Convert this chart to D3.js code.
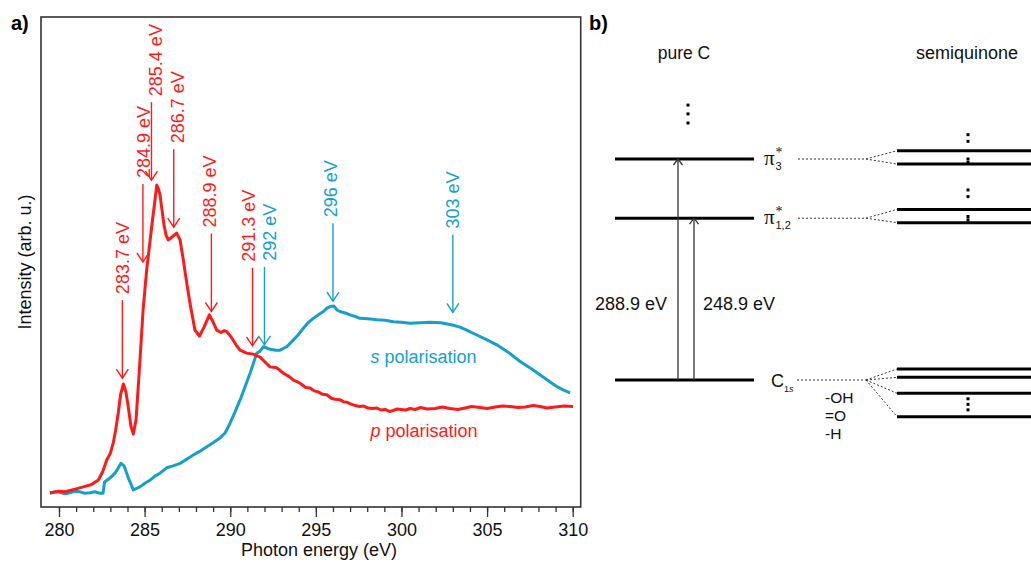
<!DOCTYPE html>
<html>
<head>
<meta charset="utf-8">
<script src="https://cdn.jsdelivr.net/npm/d3@7"></script>
<style>
  html, body { margin: 0; padding: 0; background: #fff; }
  svg { display: block; font-family: "Liberation Sans", Arial, sans-serif; }
</style>
</head>
<body>
<svg id="fig" width="1031" height="563"></svg>
<script>
// ---- NEXAFS spectra (photon energy in eV, intensity in arb. u.) ----
const pEnergy = [279.47, 280.0, 280.35, 280.9, 281.42, 281.9, 282.3, 282.55, 282.79, 283.0, 283.17, 283.3, 283.46, 283.6, 283.76, 283.9, 284.03, 284.2, 284.34, 284.5, 284.73, 284.91, 285.12, 285.41, 285.6, 285.71, 285.8, 285.9, 286.0, 286.13, 286.25, 286.38, 286.6, 286.87, 287.07, 287.26, 287.46, 287.65, 287.94, 288.2, 288.47, 288.78, 288.99, 289.21, 289.46, 289.65, 289.8, 290.09, 290.34, 290.57, 290.96, 291.35, 291.74, 292.03, 292.32, 292.72, 293.0, 293.2, 293.45, 293.69, 293.9, 294.14, 294.4, 294.66, 294.9, 295.13, 295.4, 295.64, 295.9, 296.12, 296.4, 296.61, 296.8, 297.06, 297.3, 297.58, 297.8, 298.05, 298.3, 298.56, 298.8, 299.04, 299.3, 299.53, 299.75, 299.98, 300.25, 300.5, 300.8, 301.09, 301.5, 301.96, 302.4, 302.84, 303.3, 303.71, 304.1, 304.59, 305.0, 305.47, 305.9, 306.34, 306.8, 307.22, 307.7, 308.1, 308.5, 308.97, 309.5, 310.02];
const pIntensity = [2.9, 3.2, 3.1, 3.6, 4.1, 4.6, 5.5, 7.2, 9.6, 11.0, 13.1, 15.5, 19.2, 23.0, 25.1, 23.6, 20.8, 16.5, 14.9, 17.8, 30.0, 40.2, 48.4, 57.1, 62.5, 65.7, 65.0, 63.7, 61.0, 57.6, 55.5, 54.5, 55.1, 55.9, 54.5, 50.4, 45.7, 41.6, 36.1, 34.9, 36.7, 39.2, 37.8, 36.1, 35.6, 36.0, 35.8, 34.5, 33.1, 32.0, 31.4, 31.2, 30.6, 29.6, 28.6, 28.4, 27.6, 27.1, 26.6, 25.9, 25.6, 25.1, 24.4, 24.3, 23.7, 23.5, 23.0, 22.9, 22.2, 22.0, 21.9, 21.5, 21.4, 21.0, 20.7, 20.5, 20.6, 20.2, 20.1, 20.2, 19.8, 19.9, 19.5, 19.7, 20.0, 19.9, 19.8, 20.1, 19.9, 20.3, 20.0, 20.1, 20.4, 20.1, 19.9, 20.2, 20.5, 20.3, 20.1, 20.4, 20.6, 20.5, 20.3, 20.4, 20.7, 20.5, 20.2, 20.4, 20.6, 20.5];

const sEnergy = [279.47, 279.8, 280.06, 280.35, 280.64, 280.9, 281.23, 281.5, 281.81, 282.1, 282.39, 282.57, 282.66, 282.98, 283.27, 283.62, 283.8, 284.03, 284.34, 284.73, 285.0, 285.32, 285.6, 285.9, 286.29, 286.66, 287.07, 287.48, 287.84, 288.24, 288.63, 289.0, 289.4, 289.7, 289.99, 290.28, 290.57, 290.86, 291.16, 291.55, 291.74, 291.93, 292.32, 292.67, 292.91, 293.3, 293.69, 293.96, 294.27, 294.54, 294.85, 295.13, 295.44, 295.65, 295.83, 296.06, 296.24, 296.41, 296.71, 297.0, 297.29, 297.58, 298.05, 298.56, 299.04, 299.53, 299.98, 300.5, 301.09, 301.67, 302.31, 303.03, 303.42, 303.81, 304.4, 304.94, 305.57, 306.23, 306.93, 307.63, 308.29, 308.68, 309.07, 309.44, 309.85];
const sIntensity = [2.8, 3.1, 3.0, 2.7, 2.9, 3.2, 3.1, 2.8, 2.9, 3.1, 2.8, 2.8, 5.1, 5.9, 6.9, 8.9, 8.4, 6.1, 3.5, 4.1, 4.8, 5.5, 6.3, 6.9, 8.0, 8.4, 8.9, 9.8, 10.6, 11.4, 12.3, 13.1, 14.1, 15.1, 17.1, 19.4, 21.8, 24.5, 27.3, 31.4, 31.8, 32.7, 32.2, 32.0, 32.0, 32.7, 34.1, 35.1, 36.5, 37.6, 38.5, 39.2, 39.9, 40.6, 40.9, 41.0, 40.2, 39.9, 39.6, 39.2, 38.9, 38.5, 38.4, 38.2, 38.1, 37.8, 37.7, 37.5, 37.6, 37.7, 37.6, 37.1, 36.7, 36.1, 35.1, 34.2, 33.1, 31.6, 29.7, 28.1, 26.5, 25.5, 24.6, 23.9, 23.3];

// ---- peak annotations ----
const peakEnergies = [283.7, 284.9, 285.4, 286.7, 288.9, 291.3, 292, 296, 303];
const peakSeries   = ["p", "p", "p", "p", "p", "p", "s", "s", "s"];
const peakTipValue = [26.3, 50.0, 66.7, 57.1, 39.9, 32.9, 33.1, 42.0, 39.7];

// ---- axis ticks ----
const majorTicks = [280, 285, 290, 295, 300, 305, 310];
const minorTicks = d3.range(280, 311, 1);

// ---- energy level scheme (schematic level heights) ----
const pureLevels = ["C1s", "pi12", "pi3"];
const pureHeights = [0, 0.732, 1.0];
const semiGroups = ["C1s", "pi12", "pi3"];
const semiHeights = [[0.050, 0.012, -0.060, -0.166], [0.772, 0.712], [1.0376, 0.977]];
const transitions = ["288.9 eV", "248.9 eV"];
const transitionTargets = ["pi3", "pi12"];
const substituents = ["-OH", "=O", "-H"];

const colors = { p: "#ff1a1a", s: "#14a0c8" };

const svg = d3.select("#fig");

// ================= panel a =================
const x = d3.scaleLinear().domain([280, 310]).range([59, 572.7]);
const y = d3.scaleLinear().domain([0, 100]).range([507, 17]);

const frame = { left: 41, right: 580.7, top: 17, bottom: 507 };

// minor ticks
const minorAxis = d3.axisBottom(x).tickValues(minorTicks).tickSize(5).tickFormat("");
svg.append("g").attr("transform", `translate(0,${frame.bottom})`).call(minorAxis)
  .call(g => g.select(".domain").remove())
  .call(g => g.selectAll("line").attr("stroke", "#333").attr("stroke-width", 1.3));

// major ticks with labels
const majorAxis = d3.axisBottom(x).tickValues(majorTicks).tickSize(10).tickPadding(6).tickFormat(d3.format("d"));
svg.append("g").attr("transform", `translate(0,${frame.bottom})`).call(majorAxis)
  .call(g => g.select(".domain").remove())
  .call(g => g.selectAll("line").attr("stroke", "#333").attr("stroke-width", 1.3))
  .call(g => g.selectAll("text").attr("font-size", 18).attr("fill", "#111")
    .attr("font-family", "Liberation Sans, Arial, sans-serif"));

// frame
svg.append("rect")
  .attr("x", frame.left).attr("y", frame.top)
  .attr("width", frame.right - frame.left).attr("height", frame.bottom - frame.top)
  .attr("fill", "none").attr("stroke", "#333").attr("stroke-width", 1.6);

// spectra
const line = d3.line().x(d => x(d[0])).y(d => y(d[1])).curve(d3.curveLinear);
svg.append("path").datum(d3.zip(sEnergy, sIntensity))
  .attr("d", line).attr("fill", "none").attr("stroke", colors.s)
  .attr("stroke-width", 3).attr("stroke-linejoin", "round");
svg.append("path").datum(d3.zip(pEnergy, pIntensity))
  .attr("d", line).attr("fill", "none").attr("stroke", colors.p)
  .attr("stroke-width", 3).attr("stroke-linejoin", "round");

// peak arrows; labels are nudged sideways where neighbours would collide
const labelNudge = [0, 1, 4.5, 4, -2, -4, 5.5, -2, 0];
const arrowLen = 78, head = 6, textGap = 6;
const peaks = svg.append("g");
peakEnergies.forEach((e, i) => {
  const c = colors[peakSeries[i]];
  const px = x(e), tip = y(peakTipValue[i]), top = tip - arrowLen;
  const g = peaks.append("g").attr("stroke", c).attr("fill", "none").attr("stroke-width", 1.4);
  g.append("line").attr("x1", px).attr("x2", px).attr("y1", top).attr("y2", tip);
  g.append("path").attr("d", `M${px - head},${tip - head * 1.5}L${px},${tip}L${px + head},${tip - head * 1.5}`);
  peaks.append("text")
    .attr("transform", `translate(${px + labelNudge[i]},${top - textGap}) rotate(-90)`)
    .attr("dy", "0.35em").attr("text-anchor", "start")
    .attr("font-size", 18).attr("fill", c)
    .text(`${e} eV`);
});

// series labels
const sLab = svg.append("text").attr("x", 370.5).attr("y", 363).attr("font-size", 18).attr("fill", colors.s);
sLab.append("tspan").attr("font-style", "italic").text("s");
sLab.append("tspan").text(" polarisation");
const pLab = svg.append("text").attr("x", 370.5).attr("y", 437).attr("font-size", 18).attr("fill", colors.p);
pLab.append("tspan").attr("font-style", "italic").text("p");
pLab.append("tspan").text(" polarisation");

// axis titles
svg.append("text").attr("x", 319).attr("y", 556).attr("text-anchor", "middle")
  .attr("font-size", 18).attr("fill", "#111").text("Photon energy (eV)");
svg.append("text").attr("transform", `translate(25,262) rotate(-90)`)
  .attr("dy", "0.35em").attr("text-anchor", "middle")
  .attr("font-size", 18).attr("fill", "#111").text("Intensity (arb. u.)");

// panel letters
svg.append("text").attr("x", 11).attr("y", 30).attr("font-size", 20).attr("font-weight", "bold").text("a)");
svg.append("text").attr("x", 589).attr("y", 30).attr("font-size", 20).attr("font-weight", "bold").text("b)");

// ================= panel b =================
const ly = d3.scaleLinear().domain([0, 1]).range([380, 159]);
const pureX = [615, 754];
const semiX = [897, 1040];
const fanX = 866;
const dashStart = { C1s: 797, pi12: 798, pi3: 798 };

svg.append("text").attr("x", 684).attr("y", 59).attr("text-anchor", "middle")
  .attr("font-size", 17.5).attr("fill", "#111").text("pure C");
svg.append("text").attr("x", 967).attr("y", 59).attr("text-anchor", "middle")
  .attr("font-size", 18).attr("fill", "#111").text("semiquinone");

// pure carbon levels
svg.append("g").selectAll("line").data(pureHeights).join("line")
  .attr("x1", pureX[0]).attr("x2", pureX[1])
  .attr("y1", d => ly(d)).attr("y2", d => ly(d))
  .attr("stroke", "#000").attr("stroke-width", 3);

// semiquinone sublevels and dotted correlation lines
const corr = svg.append("g");
semiGroups.forEach((name, gi) => {
  const y0 = ly(pureHeights[pureLevels.indexOf(name)]);
  corr.append("line").attr("x1", dashStart[name]).attr("x2", fanX)
    .attr("y1", y0).attr("y2", y0)
    .attr("stroke", "#333").attr("stroke-width", 1).attr("stroke-dasharray", "2,2");
  semiHeights[gi].forEach(h => {
    corr.append("line").attr("x1", fanX).attr("x2", semiX[0])
      .attr("y1", y0).attr("y2", ly(h))
      .attr("stroke", "#333").attr("stroke-width", 1).attr("stroke-dasharray", "2,2");
    corr.append("line").attr("x1", semiX[0]).attr("x2", semiX[1])
      .attr("y1", ly(h)).attr("y2", ly(h))
      .attr("stroke", "#000").attr("stroke-width", 3);
  });
});

// vertical ellipsis dots
function vdots(cx, ys) {
  svg.append("g").selectAll("rect").data(ys).join("rect")
    .attr("x", cx - 1.5).attr("y", d => d - 1.5).attr("width", 3).attr("height", 3).attr("fill", "#000");
}
vdots(688, [ly(1.244), ly(1.204), ly(1.163)]);
vdots(968, [ly(1.11), ly(1.08), ly(1.0), ly(0.985)]);
vdots(968, [ly(0.86), ly(0.83), ly(0.74), ly(0.725)]);
vdots(968, [ly(-0.085), ly(-0.11), ly(-0.135)]);

// transitions
const arrowX = { pi3: 678, pi12: 694 };
transitionTargets.forEach((t, i) => {
  const ax = arrowX[t], yt = ly(pureHeights[pureLevels.indexOf(t)]), yb = ly(0);
  const g = svg.append("g").attr("stroke", "#333").attr("fill", "none").attr("stroke-width", 1.3);
  g.append("line").attr("x1", ax).attr("x2", ax).attr("y1", yb).attr("y2", yt);
  g.append("path").attr("d", `M${ax - 4.5},${yt + 6}L${ax},${yt}L${ax + 4.5},${yt + 6}`);
});
svg.append("text").attr("x", 595).attr("y", 310).attr("font-size", 18).attr("fill", "#111").text(transitions[0]);
svg.append("text").attr("x", 703).attr("y", 310).attr("font-size", 18).attr("fill", "#111").text(transitions[1]);

// level labels
function piLabel(yc, sub) {
  svg.append("text").attr("x", 764).attr("y", yc + 6).attr("font-size", 21)
    .attr("font-family", "Liberation Serif, Times New Roman, serif").attr("fill", "#111").text("π");
  svg.append("text").attr("x", 775.5).attr("y", yc - 2).attr("font-size", 14)
    .attr("font-family", "Liberation Serif, serif").attr("fill", "#111").text("*");
  svg.append("text").attr("x", 775.5).attr("y", yc + 11).attr("font-size", 11)
    .attr("fill", "#111").text(sub);
}
piLabel(ly(1.0), "3");
piLabel(ly(0.732), "1,2");
const c1s = svg.append("text").attr("x", 771).attr("y", 387).attr("font-size", 18).attr("fill", "#111");
c1s.append("tspan").text("C");
c1s.append("tspan").attr("font-size", 9).attr("dy", 5).text("1");
c1s.append("tspan").attr("font-size", 9).attr("font-style", "italic").text("s");

// substituent list, stacked tightly under the C1s label
svg.append("g").selectAll("text").data(substituents).join("text")
  .attr("x", 825).attr("y", (d, i) => 403 + i * 18)
  .attr("font-size", 15.5).attr("fill", "#111").text(d => d);
</script>
</body>
</html>
